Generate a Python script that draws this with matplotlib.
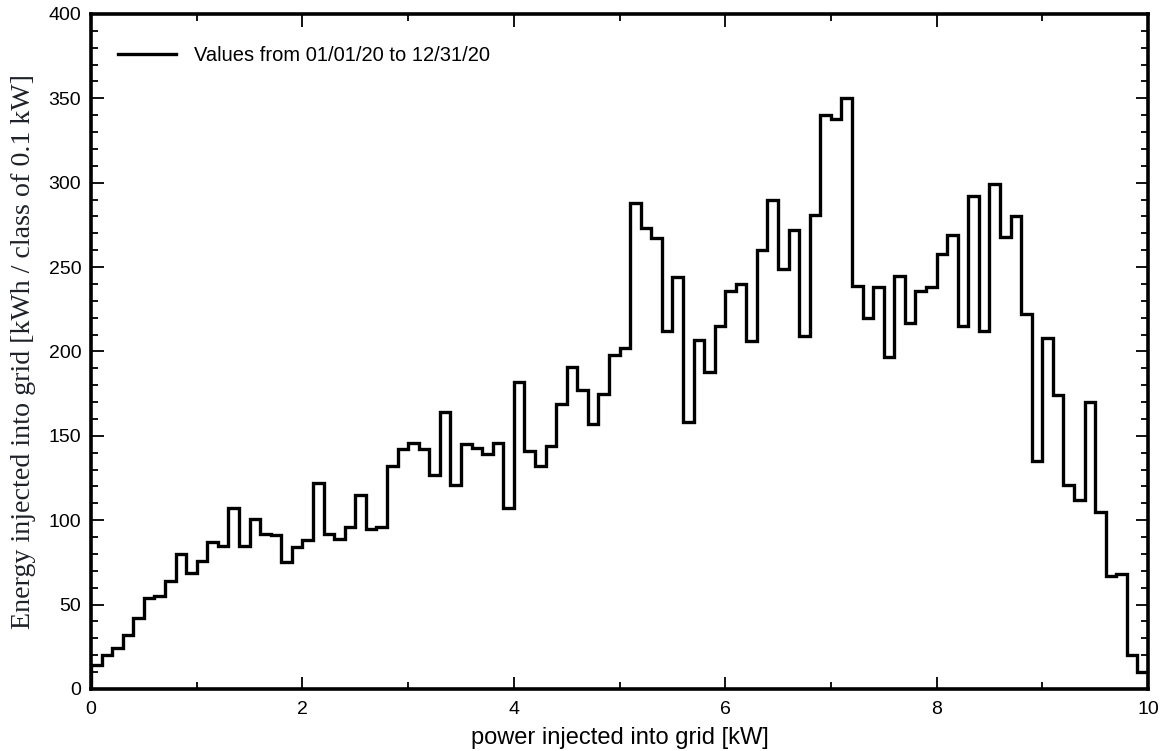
import matplotlib
matplotlib.use("Agg")
import matplotlib.pyplot as plt
import numpy as np
from matplotlib.ticker import MultipleLocator

# bin edges: 0.1 kW classes from 0 to 10 kW
bin_width = 0.1
n_bins = 100

# energy per class [kWh]
energy = [
    14, 20, 24, 32, 42, 54, 55, 64, 80, 69,
    76, 87, 85, 107, 85, 101, 92, 91, 75, 84,
    88, 122, 92, 89, 96, 115, 95, 96, 132, 142,
    146, 142, 127, 164, 121, 145, 143, 139, 146, 107,
    182, 141, 132, 144, 169, 191, 177, 157, 175, 198,
    202, 288, 273, 267, 212, 244, 158, 207, 188, 215,
    236, 240, 206, 260, 290, 249, 272, 209, 281, 340,
    338, 350, 239, 220, 238, 197, 245, 217, 236, 238,
    258, 269, 215, 292, 212, 299, 268, 280, 222, 135,
    208, 174, 121, 112, 170, 105, 67, 68, 20, 10,
]

legend_label = "Values from 01/01/20 to 12/31/20"

edges = np.arange(n_bins + 1) * bin_width

fig = plt.figure(figsize=(11.68, 7.51), dpi=100)
ax = fig.add_axes([0.0779, 0.0826, 0.9050, 0.8988])

ax.stairs(energy, edges, color="black", linewidth=2.4, label=legend_label)

ax.set_xlim(0, 10)
ax.set_ylim(0, 400)

ax.xaxis.set_major_locator(MultipleLocator(2))
ax.xaxis.set_minor_locator(MultipleLocator(1))
ax.yaxis.set_major_locator(MultipleLocator(50))
ax.yaxis.set_minor_locator(MultipleLocator(10))

ax.tick_params(which="both", direction="in", top=True, right=True,
               color="black", width=1.3)
ax.tick_params(which="major", length=9, labelsize=14, pad=7)
ax.tick_params(axis="x", which="major", pad=9)
ax.tick_params(which="minor", length=5)
for lab in ax.get_xticklabels() + ax.get_yticklabels():
    lab.set_family("Liberation Sans")

for sp in ax.spines.values():
    sp.set_linewidth(2.6)

ax.set_xlabel("power injected into grid [kW]", fontsize=17,
              family="Liberation Sans", labelpad=6)
ax.set_ylabel("Energy injected into grid [kWh / class of 0.1 kW]",
              fontsize=20.2, family="Liberation Serif", color="#1e2228",
              labelpad=9)

leg = ax.legend(loc="upper left", frameon=False,
                prop={"family": "Liberation Sans", "size": 14.5},
                handlelength=2.9, handletextpad=0.9,
                bbox_to_anchor=(0.008, 0.98))

fig.savefig("out.png", dpi=100)
